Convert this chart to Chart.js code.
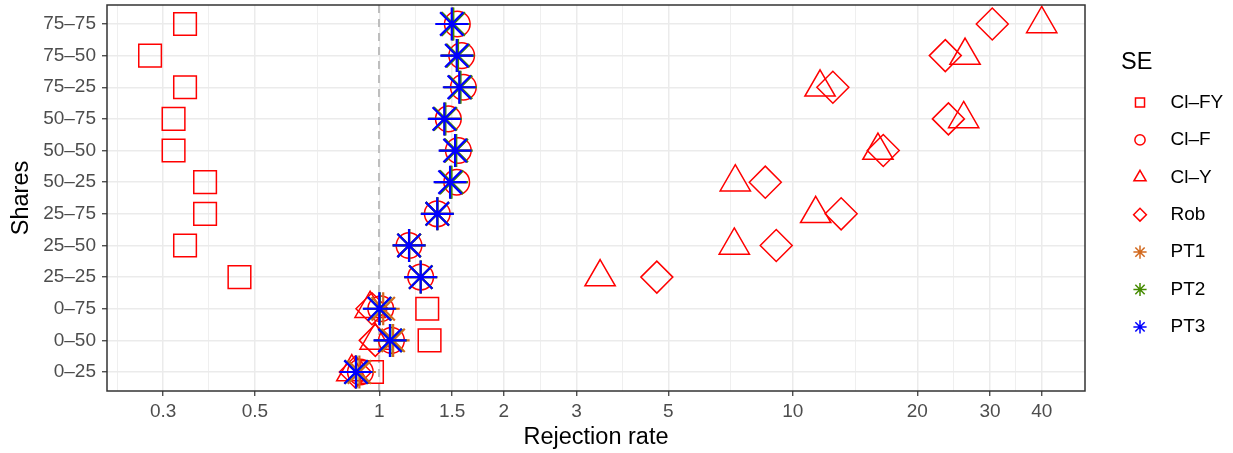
<!DOCTYPE html>
<html>
<head>
<meta charset="utf-8">
<script src="https://cdn.jsdelivr.net/npm/chart.js@4.4.1/dist/chart.umd.min.js"></script>
<style>
  html, body { margin: 0; padding: 0; background: #fff; }
  #wrap { width: 1233px; height: 453px; position: relative; }
</style>
</head>
<body>
<div id="wrap"><canvas id="myChart"></canvas></div>
<script>
// categories, bottom to top
const shares = ['0–25', '0–50', '0–75', '25–25', '25–50', '25–75', '50–25', '50–50', '50–75', '75–25', '75–50', '75–75'];
const xTicks = [0.3, 0.5, 1, 1.5, 2, 3, 5, 10, 20, 30, 40];
const xTickLabels = ['0.3', '0.5', '1', '1.5', '2', '3', '5', '10', '20', '30', '40'];
const seNames = ['Cl–FY', 'Cl–F', 'Cl–Y', 'Rob', 'PT1', 'PT2', 'PT3'];

// rejection rates per SE type (same order as shares)
const clFY = [0.96, 1.323, 1.306, 0.459, 0.339, 0.379, 0.379, 0.318, 0.318, 0.339, 0.279, 0.339];
const clF  = [0.90, 1.07, 1.008, 1.259, 1.18, 1.381, 1.539, 1.553, 1.469, 1.597, 1.582, 1.544];
const clY  = [0.858, 0.977, 0.95, 3.42, 7.22, 11.36, 7.26, 16.07, 25.9, 11.64, 26.1, 40.0];
const rob  = [0.875, 0.978, 0.96, 4.69, 9.12, 13.09, 8.58, 16.55, 23.79, 12.5, 23.38, 30.37];
const pt1  = [0.895, 1.08, 1.022, 1.26, 1.181, 1.382, 1.49, 1.53, 1.44, 1.566, 1.545, 1.505];
const pt2  = [0.88, 1.064, 1.003, 1.26, 1.181, 1.382, 1.495, 1.535, 1.445, 1.572, 1.55, 1.51];
const pt3  = [0.878, 1.061, 1.0, 1.259, 1.18, 1.381, 1.483, 1.525, 1.436, 1.561, 1.539, 1.497];
const seValues = [clFY, clF, clY, rob, pt1, pt2, pt3];

const seStyle = [
  { color: '#FF0000', shape: 'rect', r: 16, w: 1.5 },
  { color: '#FF0000', shape: 'circle', r: 12.8, w: 1.5 },
  { color: '#FF0000', shape: 'triangle', r: 17.5, w: 1.5 },
  { color: '#FF0000', shape: 'rectRot', r: 16, w: 1.5 },
  { color: '#D2691E', shape: 'star', r: 16.5, w: 2.2 },
  { color: '#458B00', shape: 'star', r: 16.5, w: 2.2 },
  { color: '#0000FF', shape: 'star', r: 16.5, w: 2.2 }
];

const FONT = '"Liberation Sans", Arial, Helvetica, sans-serif';
Chart.defaults.font.family = FONT;

// minor breaks halfway between majors (log space), plus one below the first
function logMinors(majors) {
  const l = majors.map(Math.log10);
  const out = [];
  const step = l[1] - l[0];
  out.push(Math.pow(10, l[0] - step / 2));
  for (let i = 0; i < l.length - 1; i++) out.push(Math.pow(10, (l[i] + l[i + 1]) / 2));
  return out;
}

const datasets = seNames.map((name, i) => ({
  label: name,
  data: seValues[i].map((v, j) => ({ x: v, y: j + 1 })),
  pointStyle: seStyle[i].shape,
  pointRadius: seStyle[i].r,
  pointHoverRadius: seStyle[i].r,
  pointBorderWidth: seStyle[i].w,
  pointBorderColor: seStyle[i].color,
  pointBackgroundColor: 'rgba(0,0,0,0)',
  showLine: false,
  order: seNames.length - 1 - i
}));

const refLine = {
  id: 'refLine',
  beforeDatasetsDraw(chart) {
    const { ctx, chartArea } = chart;
    const x = Math.round(chart.scales.x.getPixelForValue(1));
    ctx.save();
    ctx.strokeStyle = '#BEBEBE';
    ctx.lineWidth = 2;
    ctx.setLineDash([8, 6]);
    ctx.beginPath();
    ctx.moveTo(x, chartArea.top);
    ctx.lineTo(x, chartArea.bottom);
    ctx.stroke();
    ctx.restore();
  }
};

const panelBorder = {
  id: 'panelBorder',
  afterDatasetsDraw(chart) {
    const { ctx, chartArea: a } = chart;
    ctx.save();
    ctx.strokeStyle = '#333333';
    ctx.lineWidth = 1.5;
    ctx.strokeRect(a.left, a.top, a.right - a.left, a.bottom - a.top);
    ctx.restore();
  }
};

const seLegend = {
  id: 'seLegend',
  afterDraw(chart) {
    const { ctx, chartArea: a } = chart;
    const mid = (a.top + a.bottom) / 2;
    const x0 = a.right + 36;
    ctx.save();
    ctx.textBaseline = 'middle';
    ctx.fillStyle = '#000';
    ctx.font = '23.5px ' + FONT;
    ctx.fillText('SE', x0, mid - 135);
    ctx.font = '19px ' + FONT;
    seNames.forEach((name, i) => {
      const y = mid - 95.5 + i * 37.4;
      ctx.strokeStyle = seStyle[i].color;
      ctx.fillStyle = 'rgba(0,0,0,0)';
      ctx.lineWidth = 1.5;
      Chart.helpers.drawPoint(ctx, { pointStyle: seStyle[i].shape, radius: seStyle[i].r * 0.4, borderWidth: 1.5 }, x0 + 19, y);
      ctx.fillStyle = '#000';
      ctx.fillText(name, x0 + 49.5, y);
    });
    ctx.restore();
  }
};

const chartEl = document.getElementById('myChart');
const ctx = chartEl.getContext('2d');
new Chart(ctx, {
  type: 'scatter',
  data: { datasets },
  plugins: [refLine, panelBorder, seLegend],
  options: {
    responsive: true,
    maintainAspectRatio: false,
    animation: false,
    layout: { autoPadding: false, padding: { top: 5, right: 148, bottom: 0, left: 0 } },
    plugins: { legend: { display: false }, tooltip: { enabled: false } },
    scales: {
      x: {
        type: 'logarithmic',
        min: 0.2195,
        max: 50.9,
        afterBuildTicks: (scale) => {
          const majors = xTicks.map((v, i) => ({ value: v, label: xTickLabels[i] }));
          const minors = logMinors(xTicks).map(v => ({ value: v, minor: true }));
          scale.ticks = majors.concat(minors).sort((p, q) => p.value - q.value);
        },
        afterFit: (scale) => {
          scale.height = 62;
          scale.paddingLeft = 0;
          scale.paddingRight = 0;
        },
        ticks: {
          autoSkip: false,
          maxRotation: 0,
          color: '#4D4D4D',
          font: { size: 19 },
          padding: 4,
          callback: function (value, index, ticks) {
            return ticks[index].minor ? '' : ticks[index].label;
          }
        },
        grid: {
          color: '#EBEBEB',
          lineWidth: (c) => (c.tick && c.tick.minor ? 0.8 : 1.5),
          tickColor: (c) => (c.tick && c.tick.minor ? 'rgba(0,0,0,0)' : '#333333'),
          tickWidth: 1.2,
          tickLength: 5,
          drawTicks: true
        },
        border: { display: false },
        title: {
          display: true,
          text: 'Rejection rate',
          color: '#000',
          font: { size: 23.5 },
          padding: { top: 0, bottom: 1 }
        }
      },
      y: {
        type: 'linear',
        min: 0.4,
        max: 12.6,
        afterBuildTicks: (scale) => {
          scale.ticks = shares.map((s, i) => ({ value: i + 1 }));
        },
        afterFit: (scale) => {
          scale.width = 107;
          scale.paddingTop = 0;
          scale.paddingBottom = 0;
        },
        ticks: {
          autoSkip: false,
          color: '#4D4D4D',
          font: { size: 19 },
          padding: 6,
          callback: (value) => shares[Math.round(value) - 1]
        },
        grid: {
          color: '#EBEBEB',
          lineWidth: 1.5,
          tickColor: '#333333',
          tickWidth: 1.2,
          tickLength: 5
        },
        border: { display: false },
        title: {
          display: true,
          text: 'Shares',
          color: '#000',
          font: { size: 23.5 },
          padding: { top: 7.5, bottom: 0 }
        }
      }
    }
  }
});
</script>
</body>
</html>
